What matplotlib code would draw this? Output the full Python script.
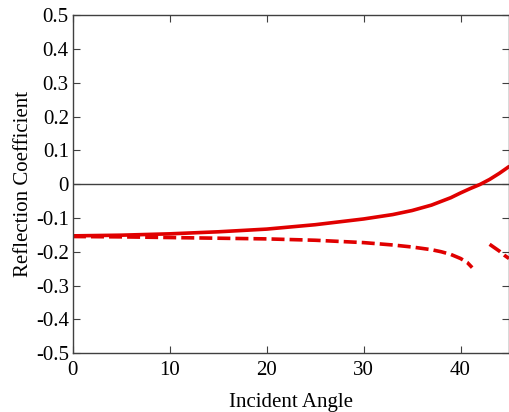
import numpy as np
import matplotlib
matplotlib.use("Agg")
import matplotlib.pyplot as plt

plt.rcParams['font.family'] = ['Liberation Serif', 'DejaVu Serif']
plt.rcParams['axes.unicode_minus'] = False

# solid curve
angle_solid = [0, 5, 10, 15, 20, 25, 30, 33, 35, 37, 39, 40, 41, 42, 43, 44, 45]
refl_solid = [-0.153, -0.151, -0.147, -0.141, -0.133, -0.120, -0.103, -0.090,
              -0.078, -0.062, -0.040, -0.026, -0.013, -0.001, 0.014, 0.032, 0.052]

# dashed curve, broken near the critical angle
angle_dash = [0, 5, 10, 15, 20, 25, 30, 33, 35, 37, 38, 39, 40, 40.7, 41.2,
              np.nan, 43.0, 43.5, 44.0, 44.5, 45.0]
refl_dash = [-0.155, -0.156, -0.158, -0.160, -0.162, -0.166, -0.173, -0.180,
             -0.186, -0.194, -0.200, -0.208, -0.220, -0.232, -0.247,
             np.nan, -0.178, -0.188, -0.198, -0.210, -0.220]

xticks = [0, 10, 20, 30, 40]
yticks = [0.5, 0.4, 0.3, 0.2, 0.1, 0, -0.1, -0.2, -0.3, -0.4, -0.5]
ytick_labels = ['0.5', '0.4', '0.3', '0.2', '0.1', '0', '-0.1', '-0.2', '-0.3', '-0.4', '-0.5']

fig = plt.figure(figsize=(5.1, 4.12), dpi=100)
ax = fig.add_axes([0.143, 0.143, 0.855, 0.820])

red = '#e00000'
ax.axhline(0, color='#404040', lw=1.0)
ax.plot(angle_solid, refl_solid, color=red, lw=2.6, solid_capstyle='round')
ax.plot(angle_dash, refl_dash, color=red, lw=2.6, dashes=(3.6, 1.4))

ax.set_xlim(0, 45)
ax.set_ylim(-0.5, 0.5)
ax.set_xticks(xticks)
ax.set_xticklabels([str(t) for t in xticks])
ax.set_yticks(yticks)
ax.set_yticklabels(ytick_labels)
ax.tick_params(direction='in', top=True, right=True, length=5, width=0.8,
               colors='#404040', labelcolor='black', labelsize=15)
ax.tick_params(axis='x', pad=6)
ax.tick_params(axis='y', pad=3)
for s in ax.spines.values():
    s.set_color('#404040')
    s.set_linewidth(1.0)

ax.set_xlabel('Incident Angle', fontsize=15, labelpad=9)
ax.set_ylabel('Reflection Coefficient', fontsize=15, labelpad=2)

fig.savefig('out.png', dpi=100)
